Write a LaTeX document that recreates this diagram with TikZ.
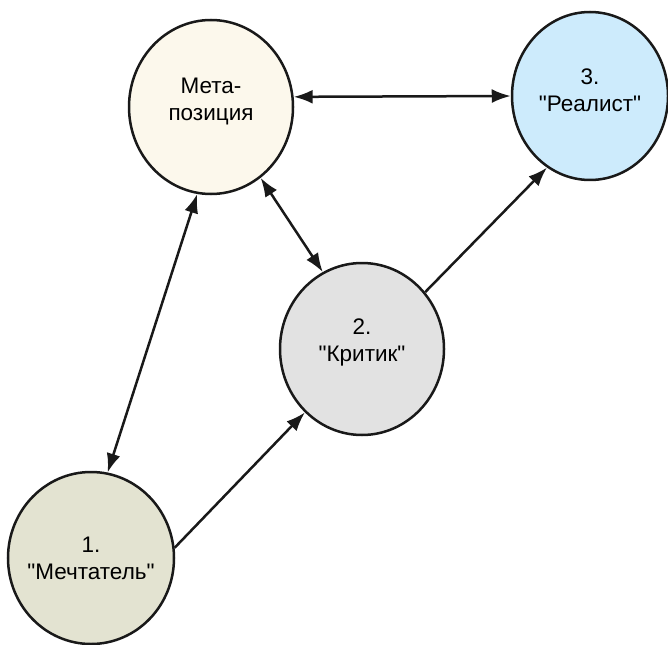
\documentclass[tikz,border=0pt]{standalone}
\usepackage{fontspec}
% a plain family: straight quotes stay straight
\newfontfamily\rolefont{Liberation Sans}
\usetikzlibrary{shapes.geometric,arrows.meta}
\definecolor{metafill}{HTML}{FCF8EC}
\definecolor{realfill}{HTML}{CDEBFC}
\definecolor{critfill}{HTML}{E2E2E2}
\definecolor{dreamfill}{HTML}{E3E3D1}
\tikzset{
  role/.style={ellipse, draw=black!90, line width=2.5pt, inner sep=0pt,
    inner xsep=-20pt, minimum width=164pt, minimum height=174pt, align=center,
    font=\rolefont\fontsize{22.5}{27}\selectfont},
  link/.style={line width=2.5pt, black!90},
  tip/.style={-{Latex[length=19pt,width=14pt]}},
  tips/.style={{Latex[length=19pt,width=14pt]}-{Latex[length=19pt,width=14pt]}}
}
\begin{document}
\begin{tikzpicture}[x=1pt,y=-1pt]
\useasboundingbox (0,0) rectangle (668,644);
\node[role, fill=metafill] (meta) at (211,107) {Мета-\\позиция\\[-12pt]};
\node[role, fill=realfill, minimum width=156pt, minimum height=168pt] (real) at (590,96) {3.\\"Реалист"\\[-16pt]};
\node[role, fill=critfill, minimum height=172pt] (crit) at (362,349) {2.\\"Критик"\\[-10pt]};
\node[role, fill=dreamfill, minimum width=166pt, minimum height=172pt] (dream) at (91,558) {1.\\"Мечтатель"};
\draw[link, tips] (meta.7.5) -- (real.180);
\draw[link, tips] (meta.-55) -- (crit.117);
\draw[link, tips] (meta.-99) -- (dream.79);
\draw[link, tip] (dream.7) -- (crit.-132);
\draw[link, tip] (crit.42) -- (real.-121);
\end{tikzpicture}
\end{document}
